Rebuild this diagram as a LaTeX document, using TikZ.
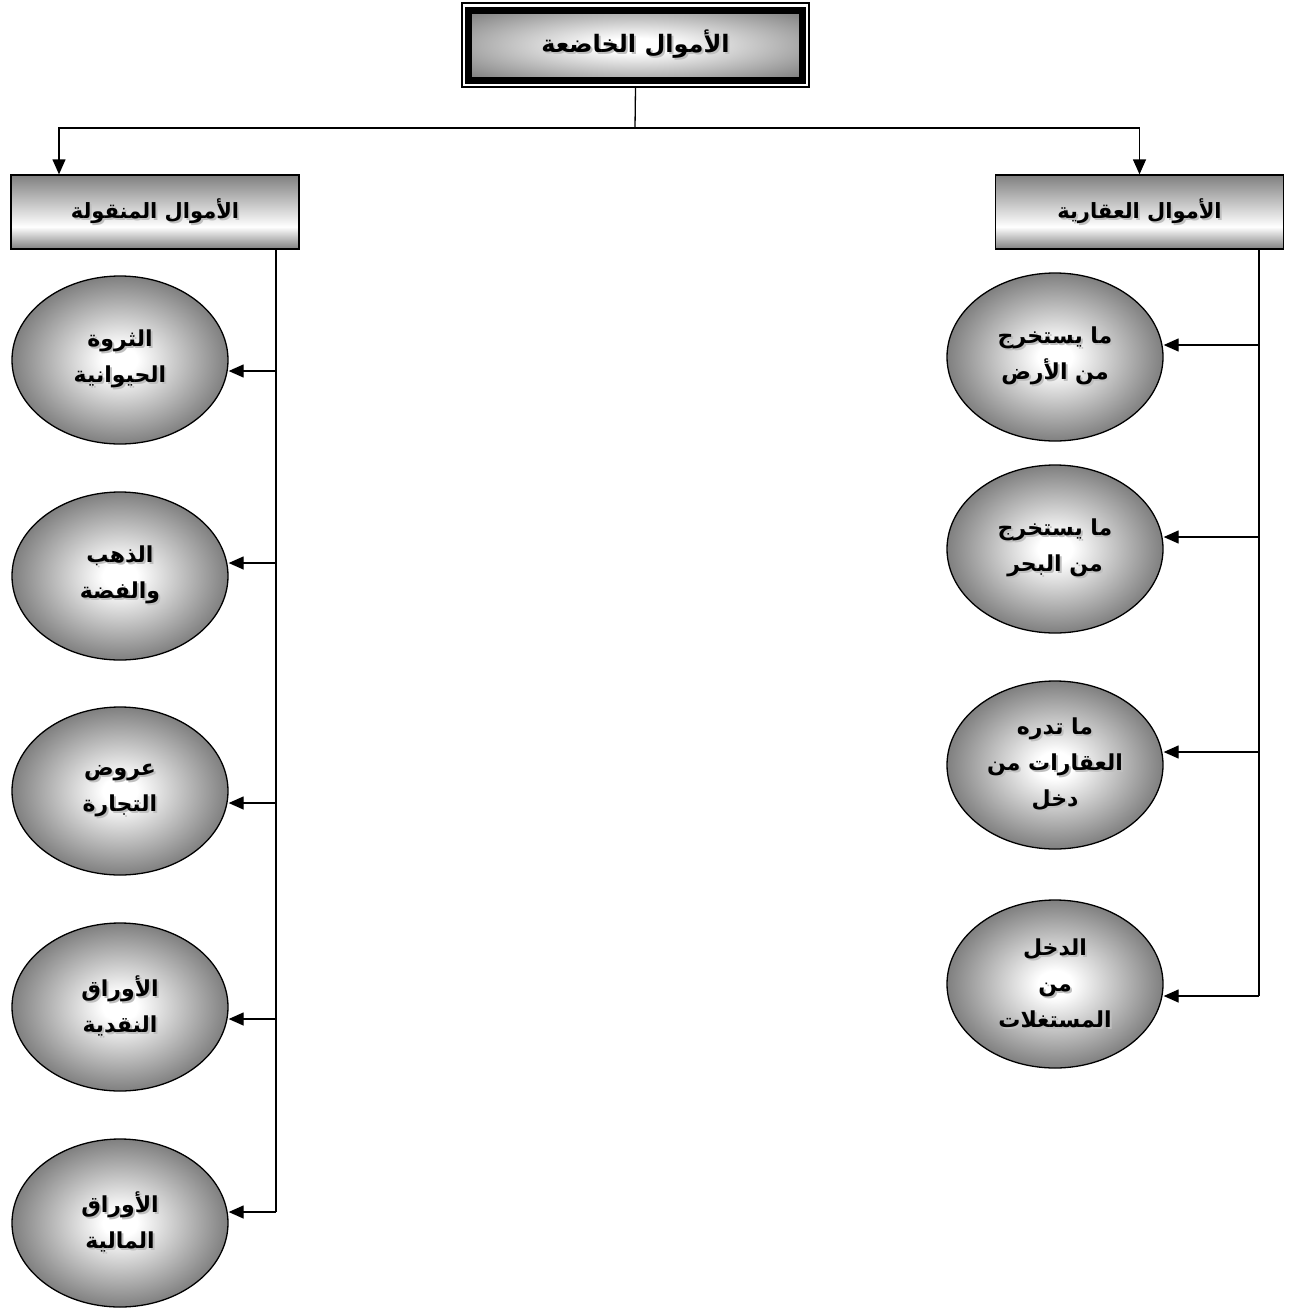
\documentclass[tikz,border=0pt]{standalone}
\usepackage{fontspec}
\usetikzlibrary{shapes.geometric,arrows.meta}
\TeXXeTstate=1
\newfontfamily\arabicfont[Script=Arabic]{DejaVu Sans}
\definecolor{shgray}{gray}{0.75}
\definecolor{edgegray}{gray}{0.5}
\pgfdeclareradialshading{ellshade}{\pgfpoint{0bp}{0bp}}{color(0bp)=(white); color(4bp)=(white); color(25bp)=(edgegray); color(50bp)=(edgegray)}
\pgfdeclareradialshading{topshade}{\pgfpoint{0bp}{0bp}}{color(0bp)=(white); color(5bp)=(white); color(34bp)=(edgegray); color(50bp)=(edgegray)}
\pgfdeclareverticalshading{boxshade}{100bp}{color(0bp)=(edgegray); color(25bp)=(edgegray); color(40bp)=(white); color(75bp)=(edgegray); color(100bp)=(edgegray)}
\newcommand\shline[1]{\makebox[0pt]{\hspace*{4pt}\raisebox{-2pt}{\textcolor{shgray}{\beginR#1\endR}}}\makebox[0pt]{\beginR#1\endR}}
\begin{document}
\begin{tikzpicture}[x=1pt,y=-1pt,
  ell/.style={ellipse, draw, line width=1.3pt, shading=ellshade, minimum width=216pt, minimum height=168pt, inner sep=0pt, align=center, font=\arabicfont\bfseries\fontsize{22}{36}\selectfont},
  boxnode/.style={rectangle, draw, line width=1.3pt, shading=boxshade, minimum width=288pt, minimum height=74pt, inner sep=0pt, font=\arabicfont\bfseries\fontsize{21}{26}\selectfont},
  conn/.style={line width=1.3pt},
  arr/.style={line width=1.3pt, -{Triangle[length=15pt,width=13pt]}}
]
\useasboundingbox (0,0) rectangle (1295,1309);
% top
\node[rectangle, draw, line width=1.4pt, minimum width=347pt, minimum height=84pt, inner sep=0pt] (topouter) at (635.5,45) {};
\node[rectangle, draw, line width=7pt, shading=topshade, minimum width=333.5pt, minimum height=70pt, inner sep=0pt, font=\arabicfont\bfseries\fontsize{24}{28}\selectfont] (top) at (635.5,45) {\shline{الأموال الخاضعة}};
% boxes
\node[boxnode] (lbox) at (155,212) {\shline{الأموال المنقولة}};
\node[boxnode] (rbox) at (1139.5,212) {\shline{الأموال العقارية}};
% left ellipses
\node[ell] (e1) at (120,360) {\shline{الثروة}\\\shline{الحيوانية}};
\node[ell] (e2) at (120,576) {\shline{الذهب}\\\shline{والفضة}};
\node[ell] (e3) at (120,791) {\shline{عروض}\\\shline{التجارة}};
\node[ell] (e4) at (120,1007) {\shline{الأوراق}\\\shline{النقدية}};
\node[ell] (e5) at (120,1223) {\shline{الأوراق}\\\shline{المالية}};
% right ellipses
\node[ell] (r1) at (1055,357) {\shline{ما يستخرج}\\\shline{من الأرض}};
\node[ell] (r2) at (1055,549) {\shline{ما يستخرج}\\\shline{من البحر}};
\node[ell] (r3) at (1055,765) {\shline{ما تدره}\\\shline{العقارات من}\\\shline{دخل}};
\node[ell] (r4) at (1055,984) {\shline{الدخل}\\\shline{من}\\\shline{المستغلات}};
% coordinates
\coordinate (hub) at (635,128);
\coordinate (l1) at (276,371);
\coordinate (l2) at (276,563);
\coordinate (l3) at (276,803);
\coordinate (l4) at (276,1019);
\coordinate (l5) at (276,1212);
\coordinate (q1) at (1259,345);
\coordinate (q2) at (1259,537);
\coordinate (q3) at (1259,752);
\coordinate (q4) at (1259,996);
% top connectors
\draw[conn] (topouter.south) -- (hub);
\draw[arr] (hub) -| ([xshift=-96pt]lbox.north);
\draw[arr] (hub) -| (rbox.north);
% trunks
\draw[conn] (lbox.south -| l1) -- (l5);
\draw[conn] (rbox.south -| q1) -- (q4);
% branches
\draw[arr] (l1) -- (l1 -| e1.east);
\draw[arr] (l2) -- (l2 -| e2.east);
\draw[arr] (l3) -- (l3 -| e3.east);
\draw[arr] (l4) -- (l4 -| e4.east);
\draw[arr] (l5) -- (l5 -| e5.east);
\draw[arr] (q1) -- (q1 -| r1.east);
\draw[arr] (q2) -- (q2 -| r2.east);
\draw[arr] (q3) -- (q3 -| r3.east);
\draw[arr] (q4) -- (q4 -| r4.east);
\end{tikzpicture}
\end{document}
